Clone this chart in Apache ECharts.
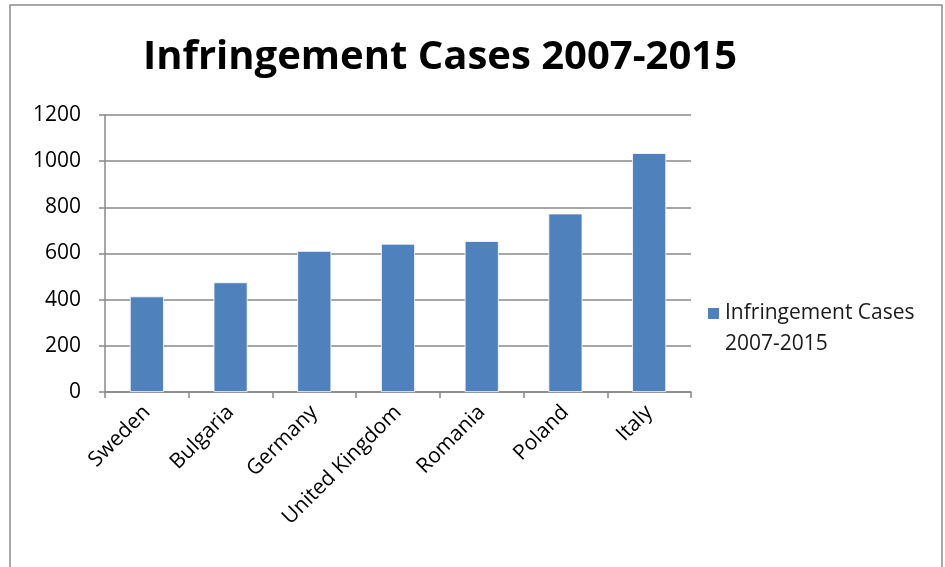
<!DOCTYPE html>
<html>
<head>
<meta charset="utf-8">
<script src="https://cdn.jsdelivr.net/npm/echarts@6/dist/echarts.min.js"></script>
<style>
  html, body { margin: 0; padding: 0; background: #ffffff; }
  #chart { width: 945px; height: 567px; }
</style>
</head>
<body>
<div id="chart"></div>
<script>
  var countries = ['Sweden', 'Bulgaria', 'Germany', 'United Kingdom', 'Romania', 'Poland', 'Italy'];
  var cases = [414, 475, 611, 642, 654, 773, 1035];
  var seriesName = 'Infringement Cases\n2007-2015';
  var titleText = 'Infringement Cases 2007-2015';

  var fontFamily = '"Open Sans", "Liberation Sans", sans-serif';
  var axisGray = '#888888';
  var nameLines = seriesName.split('\n');

  var chart = echarts.init(document.getElementById('chart'));
  chart.setOption({
    animation: false,
    backgroundColor: '#ffffff',
    graphic: [{
      type: 'rect',
      shape: { x: 10, y: 5, width: 932, height: 580 },
      style: { fill: 'none', stroke: '#8c8c8c', lineWidth: 1.5 }
    }, {
      // second line of the legend label, the icon sits beside the first line
      type: 'text',
      left: 725,
      top: 334,
      style: { text: nameLines[1], fontFamily: fontFamily, fontSize: 21, fill: '#1a1a1a' }
    }],
    title: {
      text: titleText,
      left: 435,
      textAlign: 'center',
      top: 33,
      textStyle: { fontFamily: fontFamily, fontSize: 40, fontWeight: 'bold', color: '#000000' }
    },
    legend: {
      left: 701,
      top: 298,
      orient: 'vertical',
      itemWidth: 13,
      itemHeight: 13,
      icon: 'rect',
      formatter: function (name) { return name.split('\n')[0]; },
      textStyle: { fontFamily: fontFamily, fontSize: 21, color: '#1a1a1a' }
    },
    grid: { left: 105, right: 254, top: 115, bottom: 175, containLabel: false },
    xAxis: {
      type: 'category',
      data: countries,
      axisLine: { lineStyle: { color: axisGray, width: 1.5 } },
      axisTick: { show: true, alignWithLabel: false, length: 6, lineStyle: { color: axisGray, width: 1.5 } },
      axisLabel: { rotate: 45, interval: 0, margin: 17, color: '#000000', fontFamily: fontFamily, fontSize: 21 }
    },
    yAxis: {
      type: 'value',
      min: 0,
      max: 1200,
      interval: 200,
      axisLine: { show: true, lineStyle: { color: axisGray, width: 1.5 } },
      axisTick: { show: true, length: 6, lineStyle: { color: axisGray, width: 1.5 } },
      axisLabel: {
        margin: 24, color: '#000000', fontFamily: fontFamily, fontSize: 21,
        formatter: function (value) { return String(value); }
      },
      splitLine: { lineStyle: { color: axisGray, width: 1.5 } }
    },
    series: [{
      name: seriesName,
      type: 'bar',
      data: cases,
      barWidth: 34,
      itemStyle: { color: '#4f81bd', borderColor: '#ffffff', borderWidth: 0.8 }
    }]
  });
</script>
</body>
</html>
